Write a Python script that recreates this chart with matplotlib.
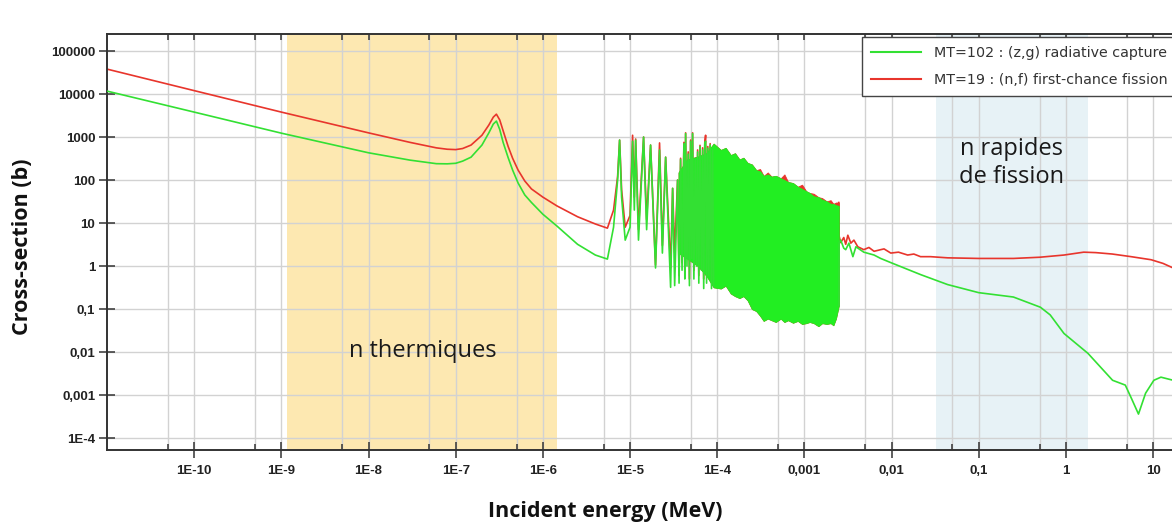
import matplotlib
matplotlib.use("Agg")
import matplotlib.pyplot as plt
from matplotlib.ticker import FixedLocator, NullFormatter, FixedFormatter, LogLocator, NullLocator
from matplotlib.lines import Line2D

# ---------------- data (energy in MeV, cross-section in barns) ----------------
# thermal / epithermal smooth part
E_low = [1e-11, 1e-10, 1e-9, 1e-8, 3e-8, 6e-8, 8e-8, 1e-7, 1.2e-7, 1.5e-7, 2.0e-7, 2.4e-7,
         2.7e-7, 2.93e-7, 3.2e-7, 3.5e-7, 4.0e-7, 4.5e-7, 5.2e-7, 6.2e-7, 7.4e-7, 1e-6,
         1.45e-6, 2.5e-6, 4e-6, 5.5e-6]
fis_low = [38000, 12000, 3800, 1250, 750, 560, 520, 510, 540, 650, 1100, 1900,
           2900, 3400, 2500, 1400, 600, 320, 170, 95, 62, 40,
           25, 14, 9.5, 7.6]
cap_low = [11700, 3800, 1230, 430, 290, 240, 238, 245, 275, 340, 650, 1250,
           2000, 2350, 1500, 750, 330, 170, 85, 45, 30, 16,
           8.5, 3.2, 1.8, 1.45]

# first resolved resonances (valley / peak values)
E_res = [6.47e-6, 7.2e-6, 7.59e-6, 8.0e-6, 8.8e-6, 1.0e-5, 1.07e-5, 1.12e-5, 1.16e-5,
         1.25e-5, 1.43e-5, 1.55e-5, 1.72e-5, 1.96e-5, 2.18e-5, 2.35e-5, 2.56e-5,
         2.92e-5, 3.08e-5, 3.25e-5, 3.51e-5]
fis_res = [20, 120, 850, 60, 8, 15, 1100, 40, 900, 7, 1000, 12, 650, 1.05, 730, 3, 340,
           0.9, 64, 2, 100]
cap_res = [8, 100, 850, 40, 4, 8, 800, 20, 850, 4, 1000, 7, 650, 0.9, 500, 2, 340,
           0.32, 64, 0.35, 100]

# denser resonances
E_zig = [3.65e-5, 3.8e-5, 3.95e-5, 4.15e-5, 4.25e-5, 4.34e-5, 4.5e-5, 4.65e-5, 4.8e-5,
         4.95e-5, 5.1e-5, 5.22e-5, 5.4e-5, 5.6e-5, 5.8e-5, 5.96e-5, 6.15e-5, 6.35e-5,
         6.6e-5, 6.8e-5, 7.0e-5, 7.2e-5, 7.36e-5, 7.55e-5, 7.8e-5, 8.0e-5, 8.3e-5,
         8.6e-5, 8.85e-5, 9.1e-5]
fis_zig = [0.6, 320, 1.2, 750, 0.8, 1250, 1.5, 450, 0.5, 850, 2, 1250, 0.8, 320, 1.5,
           500, 0.6, 640, 1.2, 560, 0.5, 740, 1100, 0.6, 600, 0.9, 700, 0.45, 540, 0.5]
cap_zig = [0.4, 300, 0.8, 700, 0.5, 1200, 1.0, 400, 0.35, 800, 1.5, 1200, 0.5, 300, 1.0,
           450, 0.4, 600, 0.8, 500, 0.3, 700, 800, 0.4, 550, 0.6, 650, 0.3, 500, 0.35]

# resonance forest: envelopes
E_band = [3.6e-5, 4.5e-5, 6.0e-5, 7.5e-5, 9.1e-5, 1.1e-4, 1.25e-4, 1.43e-4, 1.6e-4,
          1.8e-4, 2.0e-4, 2.23e-4, 2.5e-4, 2.8e-4, 3.1e-4, 3.41e-4, 3.8e-4, 4.2e-4,
          4.7e-4, 5.35e-4, 5.9e-4, 6.5e-4, 7.4e-4, 8.4e-4, 9.4e-4, 1.05e-3, 1.15e-3,
          1.28e-3, 1.45e-3, 1.6e-3, 1.8e-3, 2.0e-3, 2.15e-3, 2.3e-3, 2.48e-3]
cap_band_hi = [150, 300, 350, 420, 700, 500, 560, 380, 420, 300, 330, 250, 230, 170, 160,
               125, 135, 120, 125, 110, 100, 90, 85, 70, 62, 55, 50, 42, 40, 35, 32, 28,
               28, 26, 25]
cap_band_lo = [2.0, 1.5, 1.0, 0.6, 0.32, 0.3, 0.35, 0.23, 0.2, 0.18, 0.2, 0.16, 0.1, 0.09,
               0.07, 0.053, 0.06, 0.055, 0.05, 0.06, 0.05, 0.055, 0.048, 0.053, 0.045,
               0.047, 0.05, 0.047, 0.04, 0.047, 0.045, 0.047, 0.042, 0.06, 0.12]
fis_band_hi = [150, 300, 350, 420, 700, 500, 560, 380, 420, 300, 330, 250, 230, 170, 180,
               125, 150, 120, 125, 110, 135, 90, 85, 70, 78, 55, 50, 48, 40, 38, 32, 34,
               28, 30, 30]

# fast region
E_fis_hi = [2.48e-3, 2.5e-3, 2.61e-3, 2.83e-3, 2.98e-3, 3.15e-3, 3.41e-3, 3.7e-3, 4.1e-3,
            4.8e-3, 5.5e-3, 6.3e-3, 7.5e-3, 8.2e-3, 9.8e-3, 1.2e-2, 1.53e-2, 1.8e-2,
            2.15e-2, 2.8e-2, 4.4e-2, 0.1, 0.25, 0.5, 0.95, 1.6, 2.2, 3.4, 5.6, 9.5, 13, 17]
fis_hi = [30, 5, 3.5, 4.6, 3.2, 5.2, 3.4, 4.0, 2.8, 2.4, 2.7, 2.2, 2.4, 2.5, 2.0, 2.1,
          1.8, 1.9, 1.65, 1.65, 1.55, 1.5, 1.5, 1.6, 1.8, 2.1, 2.05, 1.9, 1.65, 1.4,
          1.15, 0.9]
E_cap_hi = [2.48e-3, 2.5e-3, 2.61e-3, 2.83e-3, 2.98e-3, 3.24e-3, 3.6e-3, 3.9e-3, 4.8e-3,
            6.3e-3, 7.5e-3, 9.8e-3, 2.16e-2, 4.4e-2, 0.1, 0.25, 0.51, 0.66, 0.95, 1.79,
            3.43, 4.8, 5.7, 6.8, 8.2, 10.2, 12.3, 17]
cap_hi = [0.12, 3.5, 4.0, 2.6, 2.4, 3.4, 1.65, 2.8, 2.1, 1.8, 1.5, 1.2, 0.63, 0.37, 0.24,
          0.19, 0.11, 0.073, 0.027, 0.0093, 0.0022, 0.0017, 0.0008, 0.00036, 0.0011,
          0.0022, 0.0026, 0.0022]

# tick labels
x_ticks = [1e-10, 1e-9, 1e-8, 1e-7, 1e-6, 1e-5, 1e-4, 1e-3, 1e-2, 1e-1, 1, 10]
x_labels = ["1E-10", "1E-9", "1E-8", "1E-7", "1E-6", "1E-5", "1E-4", "0,001", "0,01",
            "0,1", "1", "10"]
y_ticks = [1e5, 1e4, 1e3, 1e2, 1e1, 1, 1e-1, 1e-2, 1e-3, 1e-4]
y_labels = ["100000", "10000", "1000", "100", "10", "1", "0,1", "0,01", "0,001", "1E-4"]

# shaded regions
thermal_span = (1.17e-9, 1.45e-6)
fast_span = (0.0322, 1.79)

legend_labels = ["MT=102 : (z,g) radiative capture", "MT=19 : (n,f) first-chance fission"]

# ---------------- styling ----------------
RED = "#e8352c"
GREEN = "#33e033"
GREEN_FILL = "#22ee22"

fig = plt.figure(figsize=(11.72, 5.25), dpi=100)
ax = fig.add_axes([107 / 1172, 1 - 450 / 525, 1 - 107 / 1172 + 0.001, (450 - 34) / 525])
ax.set_xscale("log")
ax.set_yscale("log")
ax.set_xlim(1e-11, 17)
ax.set_ylim(5.26e-5, 2.49e5)

ax.axvspan(*thermal_span, color="#fde8b1", zorder=0.2, lw=0)
ax.axvspan(*fast_span, color="#e7f2f6", zorder=0.2, lw=0)

ax.set_axisbelow(True)

# fission (red), drawn first
ax.plot(E_low + E_res + E_zig, fis_low + fis_res + fis_zig, color=RED, lw=1.2, zorder=2)
ax.fill_between(E_band, cap_band_lo, fis_band_hi, color=RED, lw=0.6, zorder=2)
ax.plot(E_fis_hi, fis_hi, color=RED, lw=1.2, zorder=2)

# capture (green)
ax.fill_between(E_band, cap_band_lo, cap_band_hi, color=GREEN_FILL, lw=0.6,
                edgecolor=GREEN_FILL, zorder=3)
ax.plot(E_low + E_res + E_zig, cap_low + cap_res + cap_zig, color=GREEN, lw=1.2, zorder=3)
ax.plot(E_cap_hi, cap_hi, color=GREEN, lw=1.2, zorder=3)

# ticks
ax.xaxis.set_major_locator(FixedLocator(x_ticks))
ax.xaxis.set_major_formatter(FixedFormatter(x_labels))
ax.xaxis.set_minor_locator(LogLocator(base=10, subs=[5], numticks=30))
ax.xaxis.set_minor_formatter(NullFormatter())
ax.yaxis.set_major_locator(FixedLocator(y_ticks))
ax.yaxis.set_major_formatter(FixedFormatter(y_labels))
ax.yaxis.set_minor_locator(NullLocator())

for lab in ax.get_xticklabels() + ax.get_yticklabels():
    lab.set_fontfamily("Liberation Sans")
    lab.set_fontweight("bold")
    lab.set_fontsize(9.5)
    lab.set_color("#222222")

ax.tick_params(axis="x", which="major", direction="inout", length=12, width=1.1,
               color="#333333", pad=5, top=False)
ax.tick_params(axis="x", which="minor", direction="in", length=4, width=1.1,
               color="#333333", top=False)
ax.tick_params(axis="y", which="major", direction="inout", length=11, width=1.1,
               color="#333333", pad=3, right=False)

ax.grid(which="major", axis="both", color="#d2d2d2", lw=1.0)
ax.grid(which="minor", axis="x", color="#d2d2d2", lw=1.0)

for side in ["left", "bottom", "top"]:
    ax.spines[side].set_color("#333333")
    ax.spines[side].set_linewidth(1.4)
ax.spines["right"].set_visible(False)

# top ticks (inward)
axt = ax.twiny()
axt.set_xscale("log")
axt.set_xlim(ax.get_xlim())
axt.xaxis.set_major_locator(FixedLocator(x_ticks))
axt.xaxis.set_minor_locator(LogLocator(base=10, subs=[5], numticks=30))
axt.xaxis.set_major_formatter(NullFormatter())
axt.xaxis.set_minor_formatter(NullFormatter())
axt.tick_params(axis="x", which="both", direction="in", length=4, width=1.1, color="#333333")
for s in axt.spines.values():
    s.set_visible(False)

# region labels
ax.text(0.2958, 0.238, "n thermiques", transform=ax.transAxes, ha="center", va="center",
        fontsize=17, family="Open Sans", color="#1a1a1a", zorder=5)
ax.text(0.848, 0.690, "n rapides\nde fission", transform=ax.transAxes, ha="center",
        va="center", fontsize=17, family="Open Sans", color="#1a1a1a",
        linespacing=1.2, zorder=5)

# axis labels
fig.text(605 / 1172, 1 - 512 / 525, "Incident energy (MeV)", ha="center", va="center",
         fontsize=15.5, fontweight="bold", family="Open Sans", color="#111111")
fig.text(22 / 1172, 1 - 247 / 525, "Cross-section (b)", ha="center", va="center",
         rotation=90, fontsize=15.5, fontweight="bold", family="Open Sans", color="#111111")

# legend
handles = [Line2D([], [], color=GREEN, lw=1.5), Line2D([], [], color=RED, lw=1.5)]
leg = fig.legend(handles, legend_labels, loc="upper left",
                 bbox_to_anchor=(862 / 1172, 1 - 37 / 525), bbox_transform=fig.transFigure,
                 borderaxespad=0, frameon=True, fancybox=False, framealpha=1,
                 edgecolor="#444444", prop=dict(family="DejaVu Sans", size=10.3),
                 handlelength=3.5, handletextpad=0.95, borderpad=0.6, labelspacing=0.95)
leg.get_frame().set_linewidth(1.0)
for t in leg.get_texts():
    t.set_color("#333333")
leg.set_zorder(10)

fig.savefig("out.png", dpi=100)
